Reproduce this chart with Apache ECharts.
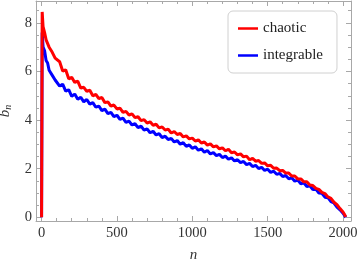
<!DOCTYPE html>
<html><head><meta charset="utf-8">
<script src="https://cdn.jsdelivr.net/npm/echarts@6/dist/echarts.min.js"></script>
<style>html,body{margin:0;padding:0;background:#fff}#c{width:360px;height:267px}</style>
</head><body><div id="c"></div>
<script>
const nValues = [0,4,10,20,30,40,50,60,70,80,90,100,
120,140,160,180,200,220,240,260,280,300,
320,340,360,380,400,420,440,460,480,500,
520,540,560,580,600,620,640,660,680,700,
720,740,760,780,800,820,840,860,880,900,
920,940,960,980,1000,1020,1040,1060,1080,1100,
1120,1140,1160,1180,1200,1220,1240,1260,1280,1300,
1320,1340,1360,1380,1400,1420,1440,1460,1480,1500,
1520,1540,1560,1580,1600,1620,1640,1660,1680,1700,
1720,1740,1760,1780,1800,1820,1840,1860,1880,1900,
1920,1940,1960,1980,2000,2010,2018];
const chaotic = [0,8.45,7.85,7.6,7.3,7.35,7.0,7.05,6.8,6.85,6.55,6.55,
6.4,6.02,6.07,5.7,5.76,5.55,5.6,5.32,5.35,5.18,
5.23,5.0,5.06,4.88,4.93,4.72,4.75,4.58,4.62,4.46,
4.49,4.32,4.36,4.21,4.26,4.1,4.14,3.98,4.02,3.88,
3.93,3.79,3.83,3.68,3.72,3.59,3.63,3.47,3.53,3.41,
3.45,3.31,3.35,3.23,3.26,3.14,3.19,3.06,3.1,2.97,
3.02,2.9,2.94,2.82,2.86,2.74,2.8,2.66,2.69,2.57,
2.61,2.49,2.52,2.37,2.43,2.31,2.34,2.22,2.24,2.12,
2.14,2.02,2.03,1.92,1.93,1.82,1.82,1.7,1.7,1.58,
1.58,1.46,1.46,1.33,1.31,1.19,1.15,1.03,0.98,0.84,
0.78,0.62,0.52,0.36,0.22,0.12,0.02];
const integrable = [0,7.6,7.0,6.85,6.45,6.35,6.05,6.1,5.85,5.85,5.65,5.7,
5.4,5.48,5.19,5.25,4.98,5.07,4.86,4.94,4.75,4.85,
4.66,4.72,4.53,4.58,4.39,4.45,4.27,4.32,4.14,4.2,
4.03,4.08,3.91,3.96,3.8,3.85,3.69,3.75,3.59,3.64,
3.48,3.54,3.39,3.44,3.28,3.34,3.2,3.25,3.1,3.16,
3.01,3.07,2.92,2.98,2.84,2.9,2.76,2.82,2.68,2.75,
2.61,2.66,2.54,2.59,2.46,2.52,2.39,2.45,2.32,2.37,
2.25,2.3,2.17,2.22,2.09,2.14,2.01,2.06,1.93,1.98,
1.85,1.9,1.77,1.81,1.68,1.72,1.59,1.63,1.49,1.53,
1.38,1.42,1.27,1.3,1.14,1.16,1.0,0.99,0.83,0.81,
0.65,0.59,0.42,0.31,0.17,0.08,0.0];
const xMajorTicks = [0,500,1000,1500,2000];
const xMinorTicks = [100,200,300,400,600,700,800,900,1100,1200,1300,1400,1600,1700,1800,1900];
const yMajorTicks = [0,2,4,6,8];
const yMinorTicks = [0.5,1,1.5,2.5,3,3.5,4.5,5,5.5,6.5,7,7.5,8.5];
const XMIN = -37, XMAX = 2053, YMIN = -0.15, YMAX = 8.9;

const frame = '#a8a8a8';
const serif = 'Liberation Serif';
function xAx(pos, ticks, len, showLine, labels) {
  return {type:'value', position:pos, min:XMIN, max:XMAX,
    axisLine:{show:showLine, onZero:false, lineStyle:{color:frame, width:1}},
    axisTick:{show:true, inside:true, length:len, customValues:ticks, lineStyle:{color:frame}},
    axisLabel: labels ? {show:true, customValues:ticks, formatter:v=>String(v), fontFamily:serif, fontSize:14.5, color:'#333', margin:5} : {show:false},
    splitLine:{show:false}};
}
function yAx(pos, ticks, len, showLine, labels) {
  return {type:'value', position:pos, min:YMIN, max:YMAX,
    axisLine:{show:showLine, onZero:false, lineStyle:{color:frame, width:1}},
    axisTick:{show:true, inside:true, length:len, customValues:ticks, lineStyle:{color:frame}},
    axisLabel: labels ? {show:true, customValues:ticks, formatter:v=>String(v), fontFamily:serif, fontSize:14.5, color:'#333', margin:4} : {show:false},
    splitLine:{show:false}};
}
const x0 = xAx('bottom', xMajorTicks, 5, true, true);
x0.name = 'n'; x0.nameLocation = 'middle'; x0.nameGap = 27;
x0.nameTextStyle = {fontFamily:serif, fontStyle:'italic', fontSize:15, color:'#333'};
const y0 = yAx('left', yMajorTicks, 5, true, true);
y0.name = '{b|b}{s|n}'; y0.nameLocation = 'middle'; y0.nameGap = 18;
y0.nameTextStyle = {fontFamily:serif, color:'#333', rich:{
  b:{fontFamily:serif, fontStyle:'italic', fontSize:15, color:'#333', lineHeight:18},
  s:{fontFamily:serif, fontStyle:'italic', fontSize:10, color:'#333', lineHeight:18, verticalAlign:'bottom', padding:[6,0,0,0]}}};

const chart = echarts.init(document.getElementById('c'), null, {renderer:'canvas'});
chart.setOption({
  animation:false,
  backgroundColor:'#fff',
  textStyle:{fontFamily:serif},
  grid:{left:36, right:9, top:1, bottom:46, containLabel:false, outerBoundsMode:'none'},
  xAxis:[x0, xAx('bottom', xMinorTicks, 3, false, false), xAx('top', xMajorTicks, 5, true, false), xAx('top', xMinorTicks, 3, false, false)],
  yAxis:[y0, yAx('left', yMinorTicks, 3, false, false), yAx('right', yMajorTicks, 5, true, false), yAx('right', yMinorTicks, 3, false, false)],
  legend:{data:['chaotic','integrable'], orient:'vertical', left:228, top:11,
    padding:[10,14,10,10], itemGap:12, itemWidth:20, itemHeight:2.5, icon:'rect', itemTextGap:9,
    backgroundColor:'#fff', borderColor:'#d0d0d0', borderWidth:1, borderRadius:5,
    textStyle:{fontFamily:serif, fontSize:15, color:'#222'}},
  series:[
    {name:'integrable', type:'line', showSymbol:false, symbol:'none', xAxisIndex:0, yAxisIndex:0,
     data:nValues.map((n,i)=>[n, integrable[i]]), lineStyle:{color:'#0000ff', width:3}, itemStyle:{color:'#0000ff'}, z:2},
    {name:'chaotic', type:'line', showSymbol:false, symbol:'none', xAxisIndex:0, yAxisIndex:0,
     data:nValues.map((n,i)=>[n, chaotic[i]]), lineStyle:{color:'#ff0000', width:3}, itemStyle:{color:'#ff0000'}, z:3}
  ]
});
</script></body></html>
